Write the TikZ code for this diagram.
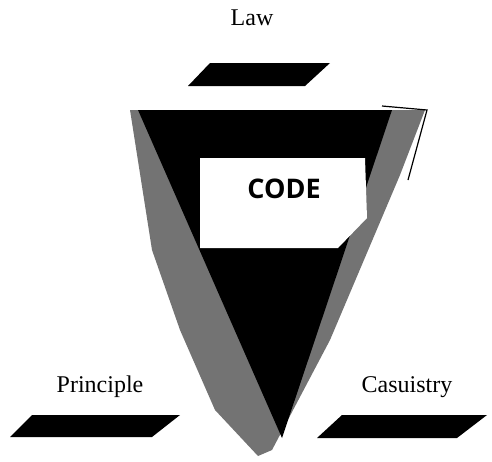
\documentclass[tikz,border=0pt]{standalone}
\usepackage{fontspec}
\setmainfont{Liberation Serif}
\newfontfamily\codefont{Open Sans}
\begin{document}
\begin{tikzpicture}[x=1pt,y=-1pt,
  bar/.style={fill=black,draw=none},
  stipple/.style={fill=black!55,draw=none},
  solid/.style={fill=black,draw=none},
  label/.style={font=\fontsize{24}{28}\selectfont,anchor=base,inner sep=0pt},
  codelabel/.style={font=\codefont\bfseries\fontsize{27}{30}\selectfont,anchor=base,inner sep=0pt},
  edge/.style={draw=black,line width=1.2pt}]
\useasboundingbox (0,0) rectangle (492,461);
% top bar
\fill[bar] (210,63) -- (330,63) -- (305,86) -- (188,86) -- cycle;
% stippled outer triangle
\fill[stipple] (130,110) -- (425,110) -- (400,175) -- (330,340) -- (272,450) -- (258,456)
  -- (215,410) -- (180,330) -- (152,250) -- cycle;
% thin bevel edge
\draw[edge] (382,106) -- (427,110) -- (408,180);
% black inner triangle
\fill[solid] (138,110) -- (392,110) -- (282,438) -- cycle;
% white code box
\fill[white] (200,158) -- (365,158) -- (367,218) -- (338,248) -- (200,248) -- cycle;
% bottom bars
\fill[bar] (32,415) -- (180,415) -- (152,437) -- (10,437) -- cycle;
\fill[bar] (342,415) -- (487,415) -- (457,438) -- (317,438) -- cycle;
% labels
\node[label] (law) at (252,25) {Law};
\node[codelabel] (code) at (284,198) {CODE};
\node[label] (principle) at (100,392) {Principle};
\node[label] (casuistry) at (407,392) {Casuistry};
\end{tikzpicture}
\end{document}
